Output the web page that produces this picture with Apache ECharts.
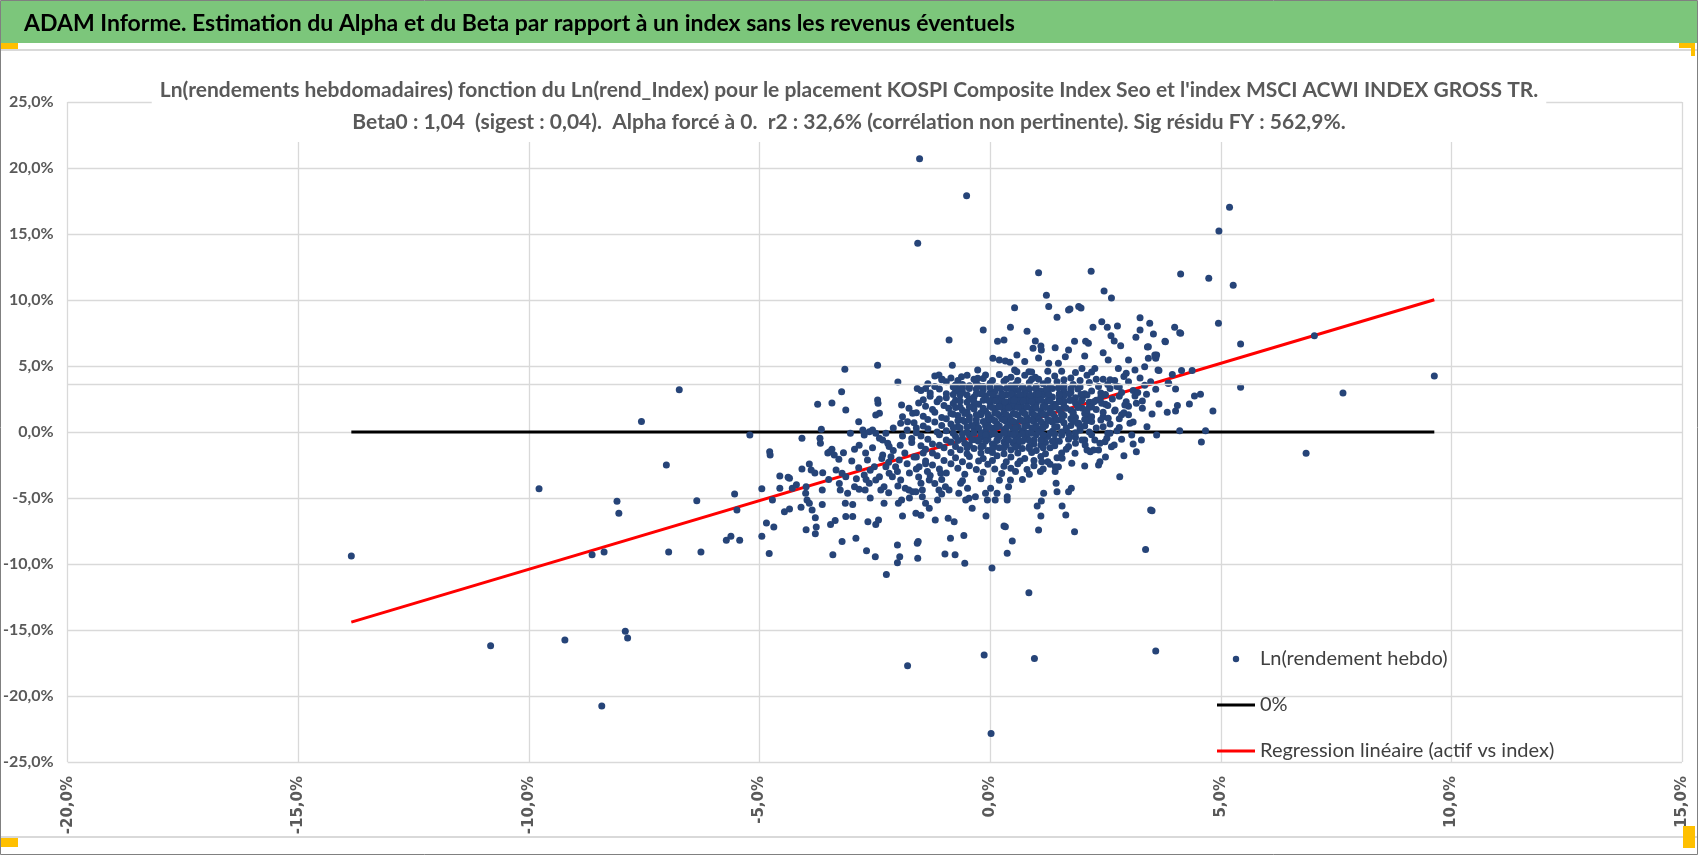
<!DOCTYPE html>
<html>
<head>
<meta charset="utf-8">
<script src="https://cdn.jsdelivr.net/npm/echarts@6/dist/echarts.min.js"></script>
<style>
html,body{margin:0;padding:0;background:#fff;}
#chart{width:1698px;height:855px;}
</style>
</head>
<body>
<div id="chart"></div>
<script>
// en-tête et titres
var headerText = 'ADAM Informe. Estimation du Alpha et du Beta par rapport à un index sans les revenus éventuels';
var titleLines = [
    "Ln(rendements hebdomadaires) fonction du Ln(rend_Index) pour le placement KOSPI Composite Index Seo et l'index MSCI ACWI INDEX GROSS TR.",
    "Beta0 : 1,04  (sigest : 0,04).  Alpha forcé à 0.  r2 : 32,6% (corrélation non pertinente). Sig résidu FY : 562,9%."
];
var seriesNames = ['Ln(rendement hebdo)', '0%', 'Regression linéaire (actif vs index)'];

// axes (en %)
var xMin = -20, xMax = 15, yMin = -25, yMax = 25, step = 5;

// ligne 0% et droite de régression
var zeroX = [-13.85, 9.63];
var zeroY = [0, 0];
var regX = [-13.85, 9.63];
var regY = [-14.40, 10.02];
var extraLineY = 3.64;

// points (x = rend index %, y = rend placement %)
var tailPts = [
[-13.85,-9.4],[-10.83,-16.2],[-9.78,-4.3],[-9.22,-15.75],[-8.63,-9.3],[-8.37,-9.1],[-8.42,-20.75],[-8.09,-5.25],
[-8.05,-6.15],[-7.91,-15.1],[-7.86,-15.6],[-7.56,0.8],[-7.02,-2.5],[-6.97,-9.1],[-6.74,3.2],[-6.36,-5.2],[-6.27,-9.1],
[-5.54,-4.7],[-5.49,-5.9],[-5.72,-8.2],[-5.62,-7.9],[-5.43,-8.2],[-5.21,-0.23],[-4.95,-4.3],[-4.95,-7.9],[-4.85,-6.9],
[-4.78,-1.5],[-4.77,-1.75],[-4.79,-9.2],[-4.72,-5.15],[-4.69,-7.2]
];
var midLeftPts = [
[-4.56,-3.33],[-4.56,-4.27],[-4.46,-6.04],[-4.35,-3.5],[-4.35,-5.83],[-4.38,-3.43],[-4.29,-4.27],[-4.08,-0.48],[-4.08,-2.8],
[-4.1,-5.7],[-3.99,-4.14],[-4.0,-4.64],[-3.97,-5.15],[-3.92,-2.42],[-3.88,-2.88],[-3.92,-5.4],[-3.86,-5.9],[-3.99,-7.4],
[-3.79,-6.5],[-3.77,-7.2],[-3.79,-7.7],[-3.74,2.1],[-3.43,2.2],[-3.69,-0.48],[-3.68,-0.86],[-3.66,0.2],[-3.64,-4.4],
[-3.64,-5.5],[-3.63,-3.08],[-3.52,-1.6],[-3.48,-1.5],[-3.43,-1.3],[-3.38,-1.75],[-3.46,-7.0],[-3.36,-6.7],[-3.41,-9.3],
[-3.21,-8.3],[-3.13,1.67],[-3.22,3.05],[-3.34,-2.88],[-3.27,-3.9],[-3.25,-4.4],[-3.21,-3.13],[-3.13,-3.39],[-3.18,-1.57],
[-3.28,-2.07],[-3.14,-5.4],[-3.13,-6.4],[-2.98,-6.4],[-3.09,-4.64],[-2.98,-5.5],[-2.91,-8.05],[-2.9,-3.54],[-2.94,-4.14],
[-3.03,-0.1],[-2.94,-1.3],[-2.84,-1.0],[-2.85,0.78],[-2.84,-4.34],[-2.71,-4.4],[-2.73,-3.26],[-2.69,-3.6],[-2.65,-6.8],
[-2.68,-9.0],[-2.49,-9.45],[-2.48,-7.0],[-2.42,-6.67],[-2.76,0.15],[-2.73,-0.23],[-2.62,0.02],[-2.55,0.15],[-2.48,-0.1],
[-2.4,-0.48],[-2.43,2.17],[-2.44,2.42],[-2.4,1.42],[-2.48,1.29],[-2.66,-2.12],[-2.62,-3.89],[-2.51,-2.63],[-2.48,-3.64],
[-2.4,-3.39],[-2.37,-4.4],[-2.3,-4.14],[-2.3,-5.4],[-2.25,-10.8],[-2.33,-0.6],[-2.22,-0.86],[-2.19,-1.1],[-2.26,-0.1],
[-2.33,-1.75],[-2.26,-2.63],[-2.19,-3.13],[-2.15,-1.87],[-2.12,-3.39],[-2.05,-2.63],[-2.01,-3.0],[-1.97,-2.12],[-1.94,-3.64],
[-2.01,-8.56],[-1.96,-9.45],[-2.01,-9.9],[-1.99,-5.4],[-1.92,-5.15],[-1.9,-6.36],[-1.94,0.66],[-1.92,2.05],[-1.9,1.16],
[-1.79,0.78],[-1.76,1.8],[-1.68,1.42],[-1.79,-17.7],[-1.84,-4.27],[-1.76,-4.4],[-1.68,-4.52],[-1.61,-4.52],[-1.61,-6.16],
[-1.58,-8.43],[-1.56,-8.3],[-1.57,-9.57],[-1.5,-6.3],[-1.54,-2.63],[-1.5,-3.89],[-1.47,-4.4],[-1.47,-4.9],[-1.4,-5.4],
[-1.32,-5.78],[-1.36,-3.0],[-1.32,-3.64],
[-3.0,-2.2],[-2.85,-2.7],[-2.7,-1.6],[-2.6,-2.9],[-2.55,-1.2],[-2.35,-2.0],[-2.2,-2.3],[-2.1,-1.4],[-1.95,-1.0],[-1.85,-1.6],
[-1.8,-2.4],[-1.75,-3.1],[-1.7,-0.5],[-1.65,-1.9],[-1.6,-2.8],[-1.55,-3.4],[-1.45,-1.6],[-1.4,-2.4],[-1.3,-3.3],[-2.0,-4.1],
[-2.2,-4.6],[-2.6,-5.0],[-1.75,-5.0],[-1.9,-0.3],[-2.1,0.3],[-1.6,0.3],[-1.2,-3.9],[-1.05,-4.7],[-3.5,-3.6],[-3.8,-3.1],[-4.2,-4.0]
];
var upperPts = [
[-1.53,20.7],[-0.51,17.9],[-1.57,14.3],[1.05,12.07],[2.19,12.17],[4.13,11.97],[1.22,10.36],[1.27,9.5],[0.53,9.42],
[1.45,8.69],[1.7,9.24],[1.73,9.32],[1.92,9.5],[1.97,9.39],[2.47,10.68],[2.63,10.15],[-0.15,7.73],[0.44,7.93],[-0.89,6.97],
[0.16,6.87],[0.3,6.97],[0.8,7.63],[0.58,5.83],[-0.82,5.05],[-3.15,4.75],[-2.44,5.05],[-2.0,3.79],[-0.62,4.19],[0.06,5.58],
[0.2,5.45],[0.33,5.38],[0.43,5.28],[2.42,8.36],[2.54,7.93],[2.76,8.03],[2.23,7.93],[2.62,7.3],[2.69,6.89],[2.83,6.54],
[3.25,8.66],[3.46,8.23],[3.25,7.73],[3.16,7.17],[3.54,7.42],[3.79,6.87],[4.0,7.93],[4.11,7.52],[3.41,6.44],[2.13,6.72],
[1.83,6.87],[2.07,6.87],[1.7,6.21],[1.41,6.39],[0.93,6.34],[1.11,6.21],[0.98,6.89],[1.1,6.52],[4.95,8.23],[5.27,11.11],
[4.74,11.64],[4.96,15.23],[5.19,17.02],[7.03,7.3],[5.43,6.67],[3.8,6.84],[4.13,7.48],[3.61,5.83],[3.59,5.58],[3.43,6.46],
[3.59,5.65],[-1.11,4.32],[-1.04,3.99],[-1.58,3.3],[-1.4,3.3],[-0.75,3.56],[-0.68,3.23],[-0.46,3.43],[-0.24,3.48],
[-0.1,4.32],[-0.27,4.7],[-0.27,4.07],[0.53,4.7],[0.58,4.57],[0.84,4.57],[0.98,4.14],[1.27,5.2],[1.48,5.2],[1.63,5.7],
[1.99,4.82],[2.27,4.82],[2.56,5.45],[2.78,4.82],[3.0,5.45],[3.14,4.7],[3.43,5.58],[3.57,5.83],[3.64,4.7],[3.86,3.69]
];
var corePts = [
[-1.2,4.25],[-0.85,4.1],[-0.5,4.3],[-0.15,4.05],[0.2,4.35],[0.45,4.15],[0.75,4.3],[1.05,4.0],[1.4,4.25],[1.75,4.1],[2.1,4.3],[2.45,4.0],[2.9,4.2],
[-1.35,3.65],[-0.95,3.8],[-0.6,3.6],[-0.3,3.75],[0.0,3.7],[0.3,3.85],[0.55,3.6],[0.85,3.75],[1.15,3.65],[1.45,3.8],[1.8,3.6],[2.15,3.75],[2.55,3.6],[3.0,3.8],[3.35,3.55],
[-1.5,3.15],[-1.1,3.25],[-0.75,3.1],[-0.45,3.3],[-0.15,3.2],[0.1,3.05],[0.35,3.3],[0.6,3.15],[0.85,3.25],[1.1,3.1],[1.35,3.3],[1.6,3.15],[1.9,3.25],[2.2,3.1],[2.6,3.3],[3.1,3.15],
[-1.3,2.7],[-0.95,2.6],[-0.65,2.8],[-0.35,2.65],[-0.1,2.75],[0.15,2.6],[0.35,2.8],[0.55,2.65],[0.75,2.75],[0.95,2.6],[1.15,2.8],[1.35,2.65],[1.6,2.75],[1.85,2.6],[2.1,2.8],[2.4,2.65],[2.8,2.7],
[-1.55,2.2],[-1.15,2.3],[-0.8,2.15],[-0.5,2.25],[-0.25,2.1],[0.0,2.3],[0.2,2.15],[0.4,2.25],[0.6,2.1],[0.8,2.3],[1.0,2.15],[1.2,2.25],[1.4,2.1],[1.6,2.3],[1.85,2.2],[2.15,2.25],[2.5,2.1],[2.95,2.3],
[-1.25,1.7],[-0.9,1.8],[-0.6,1.65],[-0.35,1.75],[-0.1,1.6],[0.1,1.8],[0.3,1.7],[0.5,1.85],[0.7,1.65],[0.9,1.75],[1.1,1.6],[1.3,1.8],[1.5,1.7],[1.75,1.65],[2.0,1.8],[2.3,1.7],[2.7,1.6],
[-1.45,1.2],[-1.05,1.1],[-0.7,1.25],[-0.45,1.15],[-0.2,1.3],[0.0,1.1],[0.2,1.25],[0.4,1.15],[0.6,1.3],[0.8,1.1],[1.0,1.2],[1.2,1.3],[1.4,1.15],[1.6,1.25],[1.85,1.1],[2.1,1.25],[2.45,1.15],[2.85,1.3],
[-1.65,0.7],[-1.2,0.75],[-0.85,0.6],[-0.55,0.8],[-0.3,0.65],[-0.05,0.75],[0.15,0.6],[0.35,0.8],[0.55,0.7],[0.75,0.65],[0.95,0.8],[1.15,0.6],[1.35,0.75],[1.6,0.7],[1.9,0.65],[2.2,0.8],[2.6,0.6],[3.1,0.75],
[-1.8,0.15],[-1.35,0.25],[-0.95,0.1],[-0.65,0.3],[-0.35,0.2],[-0.1,0.05],[0.1,0.3],[0.3,0.15],[0.5,0.25],[0.7,0.1],[0.9,0.3],[1.1,0.2],[1.35,0.05],[1.65,0.25],[1.95,0.15],[2.3,0.3],[2.75,0.1],
[-1.5,-0.3],[-1.1,-0.2],[-0.75,-0.35],[-0.45,-0.25],[-0.2,-0.4],[0.0,-0.2],[0.2,-0.35],[0.4,-0.15],[0.6,-0.3],[0.8,-0.4],[1.0,-0.2],[1.25,-0.35],[1.55,-0.25],[1.85,-0.4],[2.2,-0.2],
[-1.7,-0.8],[-1.25,-0.9],[-0.85,-0.75],[-0.55,-0.85],[-0.25,-0.7],[0.05,-0.9],[0.3,-0.75],[0.5,-0.85],[0.7,-0.7],[0.95,-0.9],[1.2,-0.8],[1.5,-0.7],[1.85,-0.85],
[-1.4,-1.3],[-1.0,-1.2],[-0.65,-1.35],[-0.35,-1.25],[-0.05,-1.4],[0.2,-1.2],[0.45,-1.35],[0.7,-1.25],[1.0,-1.4],[1.3,-1.2],[1.65,-1.3],
[-1.6,-1.9],[-1.15,-1.8],[-0.75,-1.95],[-0.45,-1.85],[-0.15,-2.0],[0.15,-1.8],[0.45,-1.9],[0.75,-2.0],[1.1,-1.85],[1.45,-1.95],
[-1.25,-2.5],[-0.85,-2.4],[-0.45,-2.55],[-0.05,-2.45],[0.3,-2.6],[0.6,-2.4],[0.95,-2.55],[1.3,-2.45],
[-0.95,-3.1],[-0.55,-3.2],[-0.15,-3.05],[0.25,-3.15],[0.55,-3.0],[0.85,-3.2],
[0.05,2.45],[0.25,2.5],[0.45,2.4],[0.65,2.5],[0.85,2.45],[1.05,2.5],[1.25,2.4],[0.0,1.95],[0.3,1.95],[0.5,2.0],[0.7,1.9],
[0.95,2.0],[1.15,1.95],[1.35,1.9],[0.1,1.45],[0.3,1.5],[0.5,1.4],[0.7,1.5],[0.9,1.45],[1.1,1.4],[1.3,1.5],[0.05,0.95],
[0.25,1.0],[0.45,0.9],[0.65,0.95],[0.85,0.9],[1.05,1.0],[1.25,0.95],[0.2,0.45],[0.4,0.5],[0.6,0.4],[0.8,0.5],[1.0,0.45],
[1.2,0.5],[0.3,-0.05],[0.55,0.0],[0.8,-0.1],[1.05,0.0]
];
var coreFillPts = [
[-1.05,3.95],[-0.7,3.9],[-0.35,4.0],[0.05,3.9],[0.35,4.0],[0.6,3.9],[0.9,4.0],[1.25,3.9],[1.6,3.95],[1.95,3.9],[2.3,4.0],[2.7,3.9],
[-1.2,3.45],[-0.8,3.4],[-0.45,3.5],[-0.15,3.45],[0.15,3.4],[0.45,3.5],[0.7,3.4],[1.0,3.45],[1.3,3.4],[1.6,3.5],[1.95,3.4],[2.35,3.45],[2.8,3.4],
[-1.3,2.95],[-0.95,2.9],[-0.6,3.0],[-0.3,2.9],[0.0,2.95],[0.25,2.9],[0.5,3.0],[0.75,2.95],[1.0,2.9],[1.25,3.0],[1.5,2.9],[1.75,3.0],[2.05,2.9],[2.4,2.95],[2.85,3.0],
[-1.45,2.45],[-1.1,2.5],[-0.75,2.4],[-0.45,2.5],[-0.15,2.4],[1.5,2.5],[1.75,2.4],[2.0,2.5],[2.3,2.4],[2.65,2.5],
[-1.4,1.95],[-1.0,2.0],[-0.65,1.9],[-0.35,2.0],[1.6,1.95],[1.9,2.0],[2.2,1.9],[2.55,2.0],[3.0,1.95],
[-1.6,1.45],[-1.2,1.5],[-0.85,1.4],[-0.5,1.5],[-0.2,1.45],[1.55,1.4],[1.8,1.5],[2.1,1.4],[2.45,1.5],[2.9,1.45],
[-1.35,0.95],[-0.95,1.0],[-0.6,0.9],[-0.3,0.95],[-0.05,1.0],[1.45,0.9],[1.75,1.0],[2.05,0.95],[2.4,0.9],[2.8,1.0],
[-1.45,0.45],[-1.05,0.5],[-0.7,0.4],[-0.4,0.5],[-0.1,0.45],[1.45,0.4],[1.75,0.5],[2.05,0.45],[2.45,0.4],
[-1.6,-0.05],[-1.15,0.0],[-0.8,-0.1],[-0.5,0.0],[-0.2,-0.05],[0.05,-0.1],[1.3,-0.1],[1.55,0.0],[1.85,-0.05],[2.15,0.0],[2.55,-0.1],
[-1.35,-0.55],[-0.95,-0.6],[-0.6,-0.5],[-0.3,-0.6],[-0.05,-0.55],[0.15,-0.6],[0.35,-0.5],[0.55,-0.6],[0.75,-0.55],[0.95,-0.6],[1.15,-0.5],[1.4,-0.6],[1.7,-0.55],[2.05,-0.6],
[-1.5,-1.05],[-1.1,-1.0],[-0.75,-1.1],[-0.45,-1.0],[-0.15,-1.05],[0.1,-1.1],[0.35,-1.0],[0.6,-1.05],[0.85,-1.1],[1.1,-1.0],[1.4,-1.05],[1.7,-1.1],
[-1.25,-1.6],[-0.85,-1.55],[-0.5,-1.65],[-0.2,-1.6],[0.05,-1.55],[0.3,-1.65],[0.6,-1.6],[0.9,-1.55],[1.2,-1.65],[1.55,-1.6],
[-1.4,-2.2],[-1.0,-2.15],[-0.6,-2.25],[-0.25,-2.2],[0.05,-2.15],[0.35,-2.25],[0.65,-2.2],[0.95,-2.15],[1.25,-2.25],
[-1.1,-2.8],[-0.7,-2.75],[-0.3,-2.85],[0.1,-2.8],[0.45,-2.75],[0.8,-2.85],[1.15,-2.8],
[-1.05,-3.6],[-0.6,-3.7],[-0.2,-3.55],[0.2,-3.65],[0.7,-3.6]
];
var coreDensePts = [
[-0.6,3.3],[-0.3,3.25],[0.0,3.35],[0.22,3.3],[0.48,3.25],[0.72,3.35],[0.98,3.3],[1.22,3.25],[1.48,3.35],[1.75,3.3],
[-0.8,2.85],[-0.5,2.8],[-0.2,2.9],[0.05,2.85],[0.27,2.8],[0.45,2.9],[0.65,2.85],[0.87,2.8],[1.05,2.9],[1.27,2.85],[1.5,2.8],[1.72,2.9],[1.97,2.85],
[-0.65,2.35],[-0.35,2.3],[-0.05,2.4],[0.12,2.35],[0.32,2.3],[0.52,2.4],[0.72,2.35],[0.9,2.3],[1.1,2.4],[1.3,2.35],[1.5,2.3],[1.72,2.4],[1.98,2.35],[2.25,2.3],
[-0.75,1.85],[-0.45,1.9],[-0.15,1.8],[0.05,1.85],[0.2,1.9],[0.4,1.8],[0.6,1.85],[0.8,1.9],[1.0,1.8],[1.2,1.85],[1.42,1.9],[1.65,1.8],[1.9,1.85],[2.15,1.9],
[-0.8,1.35],[-0.55,1.4],[-0.3,1.3],[-0.05,1.35],[0.15,1.4],[0.35,1.3],[0.55,1.35],[0.75,1.4],[0.95,1.3],[1.15,1.35],[1.35,1.4],[1.55,1.3],[1.8,1.35],[2.05,1.4],
[-0.7,0.85],[-0.45,0.9],[-0.15,0.8],[0.1,0.85],[0.3,0.9],[0.5,0.8],[0.7,0.85],[0.9,0.9],[1.1,0.8],[1.3,0.85],[1.55,0.9],[1.8,0.8],[2.1,0.85],
[-0.8,0.35],[-0.5,0.4],[-0.25,0.3],[0.0,0.35],[0.15,0.4],[0.35,0.3],[0.55,0.35],[0.75,0.4],[0.95,0.3],[1.15,0.35],[1.4,0.4],[1.65,0.3],[1.95,0.35],
[-0.6,-0.15],[-0.35,-0.1],[-0.1,-0.2],[0.1,-0.15],[0.3,-0.1],[0.5,-0.2],[0.7,-0.15],[0.9,-0.1],[1.15,-0.2],[1.4,-0.15],[1.7,-0.1],
[-0.7,-0.65],[-0.4,-0.6],[-0.1,-0.7],[0.15,-0.65],[0.4,-0.6],[0.65,-0.7],[0.85,-0.65],[1.1,-0.6],[1.35,-0.7],
[-0.5,-1.2],[-0.2,-1.15],[0.05,-1.25],[0.3,-1.2],[0.55,-1.15],[0.85,-1.25],[1.15,-1.2]
];
var rightPts = [
[3.66,4.65],[4.15,4.65],[4.38,4.65],[3.87,3.69],[3.59,3.23],[4.02,3.26],[4.43,2.73],[4.56,2.86],[3.66,2.12],[4.06,2.0],
[4.32,2.12],[4.83,1.59],[3.84,1.49],[4.02,1.59],[3.51,1.36],[4.11,0.1],[4.67,0.1],[3.61,-0.23],[4.58,-0.76],[3.51,-5.96],
[5.43,3.39],[7.65,2.95],[6.85,-1.61],[9.63,4.24],[3.48,3.81],[3.39,2.86],[3.14,2.73],[3.03,0.66],[2.56,1.04],[2.71,1.67],
[2.92,2.05],[3.17,2.17],[2.42,2.17],[2.1,1.67],[2.2,1.16],[1.92,0.66],[1.73,-0.35],[1.99,-0.6],[2.27,-0.6],[2.53,-0.48],
[2.63,-1.11],[2.35,-1.36],[2.17,-1.49],[1.84,-1.61],[1.56,-1.99],[1.41,-3.0],[2.05,-2.58],[2.35,-2.5],[2.38,-2.25],
[2.81,-3.39],[3.17,-1.49],[3.28,-0.6],[3.07,-0.23],[3.48,-5.9],[3.37,-8.9],[3.59,-16.6],[2.85,-0.55],[2.69,-0.98],
[2.49,-0.73],[2.24,-1.36],[2.1,-1.36],[1.77,-2.37],[2.06,-0.98],[2.38,-0.86],
[2.5,2.85],[2.75,3.45],[3.2,3.0],[3.3,2.35],[2.6,3.95],[2.95,4.45],[3.25,4.1],[3.0,1.3],[3.3,1.8],[3.4,0.4],[2.8,0.35],
[2.6,-0.1],[3.1,-0.9],[2.9,-1.8],[2.5,-1.9],[2.2,4.55],[1.85,4.5],[1.55,4.6],[1.25,4.6],[0.9,4.55],[2.45,6.0],[2.05,5.75],
[1.05,5.6],[0.75,5.35],[3.35,4.95],[3.95,4.35]
];
var lowerPts = [
[-1.19,-6.67],[-1.14,-5.15],[-1.11,-4.4],[-1.07,-3.13],[-0.97,-4.14],[-0.91,-6.54],[-0.89,-4.4],[-0.78,-6.8],[-0.86,-8.05],
[-0.98,-9.24],[-0.76,-9.3],[-0.57,-7.85],[-0.55,-9.95],[-0.68,-4.64],[-0.64,-3.89],[-0.53,-5.15],[-0.46,-5.02],[-0.39,-5.78],
[-0.32,-4.9],[-0.49,-4.27],[-0.13,-16.9],[-0.09,-6.36],[-0.06,-5.15],[0.04,-10.3],[0.11,-5.15],[0.15,-4.64],[-0.1,-4.64],
[0.01,-4.27],[0.3,-7.12],[0.33,-7.17],[0.37,-9.19],[0.48,-8.26],[0.37,-5.15],[0.37,-4.9],[0.4,-4.14],[0.44,-3.64],
[0.84,-12.17],[0.96,-17.15],[1.02,-5.6],[1.11,-5.23],[1.1,-6.36],[1.05,-7.42],[1.16,-4.64],[1.09,-3.0],[1.12,-2.25],
[1.43,-3.89],[1.45,-4.52],[1.56,-5.6],[1.64,-6.29],[1.7,-4.52],[1.76,-4.27],[1.83,-7.55],[1.41,-2.63],[1.48,-2.63],[0.02,-22.85]
];

var calibriLike = "Lato,'Open Sans',sans-serif";
var pct = function (v) { return v.toFixed(1).replace('.', ',') + '%'; };

var scatterData = [].concat(tailPts, midLeftPts, upperPts, corePts, coreFillPts, coreDensePts, rightPts, lowerPts);
var zeroData = zeroX.map(function (x, i) { return [x, zeroY[i]]; });
var regData = regX.map(function (x, i) { return [x, regY[i]]; });

var chart = echarts.init(document.getElementById('chart'));
var gridColor = '#d9d9d9';

var option = {
    backgroundColor: '#fff',
    animation: false,
    title: {
        text: titleLines.join('\n'),
        left: 'center',
        top: 70,
        padding: [4, 8, 4, 8],
        backgroundColor: '#fff',
        textStyle: {
            fontFamily: calibriLike, fontSize: 21, fontWeight: 'bold', color: '#595959', lineHeight: 32
        }
    },
    legend: {
        orient: 'vertical',
        left: 1212,
        top: 644,
        itemWidth: 38,
        itemHeight: 14,
        itemGap: 26,
        textStyle: { fontFamily: calibriLike, fontSize: 20, lineHeight: 20, color: '#404040' },
        data: [
            { name: seriesNames[0], icon: 'path://M0,0M38,14M15.8,7a3.2,3.2 0 1 0 6.4,0a3.2,3.2 0 1 0 -6.4,0z' },
            { name: seriesNames[1], icon: 'path://M0,0M38,14M0,5.5h38v3h-38z' },
            { name: seriesNames[2], icon: 'path://M0,0M38,14M0,5.5h38v3h-38z' }
        ]
    },
    grid: { left: 62, right: 16, top: 102, bottom: 93 },
    xAxis: {
        type: 'value', min: xMin, max: xMax, interval: step,
        axisLine: { show: false, onZero: false },
        axisTick: { show: false },
        splitLine: { lineStyle: { color: gridColor, width: 1.3 } },
        axisLabel: {
            rotate: 90, margin: 14, formatter: pct,
            fontFamily: "'DejaVu Sans',sans-serif", fontSize: 15, fontWeight: 'bold', color: '#595959'
        }
    },
    yAxis: {
        type: 'value', min: yMin, max: yMax, interval: step,
        axisLine: { show: false, onZero: false },
        axisTick: { show: false },
        splitLine: { lineStyle: { color: gridColor, width: 1.3 } },
        axisLabel: {
            margin: 14, formatter: pct,
            fontFamily: calibriLike, fontSize: 16, fontWeight: 'bold', color: '#595959'
        }
    },
    series: [
        {
            name: seriesNames[1], type: 'line', data: zeroData, symbol: 'none', z: 2,
            lineStyle: { color: '#000', width: 3 }, itemStyle: { color: '#000' },
            markLine: {
                silent: true, symbol: 'none', label: { show: false },
                lineStyle: { color: gridColor, width: 1.3, type: 'solid' },
                data: [{ yAxis: extraLineY }]
            }
        },
        {
            name: seriesNames[2], type: 'line', data: regData, symbol: 'none', z: 2,
            lineStyle: { color: '#ff0000', width: 3 }, itemStyle: { color: '#ff0000' }
        },
        {
            name: seriesNames[0], type: 'scatter', data: scatterData, z: 3,
            symbolSize: 7, itemStyle: { color: '#264478', opacity: 1 }
        }
    ],
    graphic: [
        { type: 'rect', z: -10, shape: { x: 0.5, y: 0.5, width: 1697, height: 854 }, style: { fill: 'none', stroke: '#808080', lineWidth: 1 } },
        { type: 'rect', z: -9, shape: { x: 1, y: 1, width: 1696, height: 42 }, style: { fill: '#7cc67b' } },
        { type: 'text', z: 10, x: 24, y: 24, style: { text: headerText, fill: '#000', font: 'bold 23px ' + calibriLike, textVerticalAlign: 'middle' } },
        { type: 'line', z: -9, shape: { x1: 1, y1: 50, x2: 1697, y2: 50 }, style: { stroke: '#d9d9d9', lineWidth: 2 } },
        { type: 'line', z: -9, shape: { x1: 1, y1: 837, x2: 1697, y2: 837 }, style: { stroke: '#d9d9d9', lineWidth: 2 } },
        { type: 'rect', z: 10, shape: { x: 1, y: 43, width: 17, height: 6 }, style: { fill: '#ffc000' } },
        { type: 'rect', z: 10, shape: { x: 1679, y: 43, width: 16, height: 5 }, style: { fill: '#ffc000' } },
        { type: 'rect', z: 10, shape: { x: 1691, y: 43, width: 4, height: 13 }, style: { fill: '#ffc000' } },
        { type: 'rect', z: 10, shape: { x: 1, y: 838, width: 17, height: 9 }, style: { fill: '#ffc000' } },
        { type: 'rect', z: 10, shape: { x: 1683, y: 826, width: 12, height: 22 }, style: { fill: '#ffc000' } }
    ]
};
chart.setOption(option);
</script>
</body>
</html>
